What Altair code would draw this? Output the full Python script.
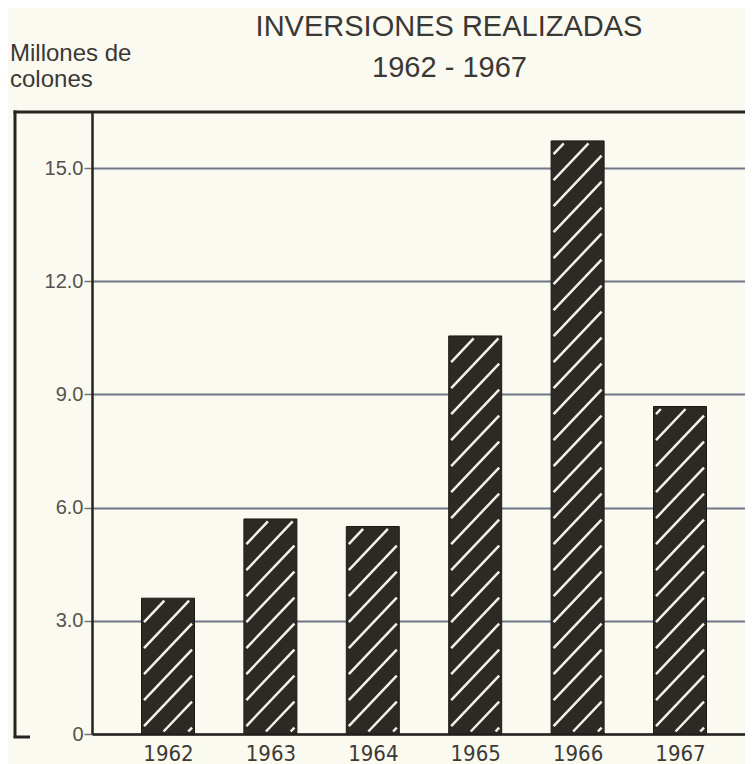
import altair as alt
import numpy as np
import pandas as pd

# ---- data ----
years = [1962, 1963, 1964, 1965, 1966, 1967]
values = [3.6, 5.7, 5.5, 10.55, 15.72, 8.68]
y_ticks = [0, 3, 6, 9, 12, 15]
title_lines = ["INVERSIONES REALIZADAS", "1962 - 1967"]
unit_lines = ["Millones de", "colones"]

# ---- geometry / style ----
W, H = 653, 622
PX_PER_YEAR = 102.4
X0 = 1962 - 76 / PX_PER_YEAR
X1 = X0 + W / PX_PER_YEAR
PX_PER_UNIT = 37.73
YMAX = H / PX_PER_UNIT
BAR_W = 53.0
HALF = BAR_W / 2 / PX_PER_YEAR

BG = "#fbfaf1"
INK = "#262320"
BAR_FILL = "#2d2924"
GRID = "#6f7587"
NARROW = "Liberation Sans Narrow, DejaVu Sans Condensed, Liberation Sans, sans-serif"

bars = pd.DataFrame({"year": years, "value": values})
bars["x_lo"] = bars["year"] - HALF
bars["x_hi"] = bars["year"] + HALF

# hatch segments (white "/" lines) clipped to each bar, built from the values
SLOPE, PERIOD, PHASE, INSET = 1.05, 26.0, 9.0, 2.5
rows = []
for yr, v in zip(years, values):
    h = v * PX_PER_UNIT
    u0, u1, y0, y1 = INSET, BAR_W - INSET, INSET, h - INSET
    for b in np.arange(-SLOPE * BAR_W + PHASE, h, PERIOD):
        ua = max(u0, (y0 - b) / SLOPE)
        ub = min(u1, (y1 - b) / SLOPE)
        if ub - ua > 1.0:
            left = yr - HALF
            rows.append({
                "x": left + ua / PX_PER_YEAR,
                "x2": left + ub / PX_PER_YEAR,
                "y": (SLOPE * ua + b) / PX_PER_UNIT,
                "y2": (SLOPE * ub + b) / PX_PER_UNIT,
            })
hatch = pd.DataFrame(rows)

xscale = alt.Scale(domain=[X0, X1], nice=False, zero=False)
yscale = alt.Scale(domain=[0, YMAX], nice=False, zero=False)

xaxis = alt.Axis(values=years, format="d", grid=False, ticks=False,
                 domain=True, domainColor=INK, domainWidth=2.5,
                 labelFont=NARROW, labelFontSize=22,
                 labelColor="#3c3a36", labelPadding=9, title=None)
yaxis = alt.Axis(values=y_ticks, grid=True, gridColor=GRID, gridWidth=1.8,
                 domain=True, domainColor=INK, domainWidth=2.5,
                 ticks=True, tickSize=8, tickColor="#777777", tickWidth=1.5,
                 labelFont="Liberation Sans", labelFontSize=20,
                 labelColor="#55524d", labelPadding=1,
                 labelExpr="datum.value == 0 ? '0' : format(datum.value, '.1f')",
                 title=None)

bar_layer = alt.Chart(bars).mark_rect(fill=BAR_FILL, stroke="#1c1a17", strokeWidth=1).encode(
    x=alt.X("x_lo:Q", scale=xscale, axis=xaxis),
    x2="x_hi:Q",
    y=alt.Y("value:Q", scale=yscale, axis=yaxis),
    y2=alt.datum(0),
)

hatch_layer = alt.Chart(hatch).mark_rule(color="#f4f2ea", strokeWidth=2.5).encode(
    x=alt.X("x:Q", scale=xscale, axis=xaxis),
    x2="x2:Q",
    y=alt.Y("y:Q", scale=yscale, axis=yaxis),
    y2="y2:Q",
)

one = pd.DataFrame({"k": [0]})
frame_top = alt.Chart(one).mark_rule(color=INK, strokeWidth=3).encode(
    x=alt.value(-78.5), x2=alt.value(W + 10), y=alt.value(0))
frame_left = alt.Chart(one).mark_rule(color=INK, strokeWidth=3).encode(
    x=alt.value(-77), y=alt.value(-1.5), y2=alt.value(H + 3))
frame_stub = alt.Chart(one).mark_rule(color=INK, strokeWidth=3).encode(
    x=alt.value(-78.5), x2=alt.value(-62), y=alt.value(H + 3))

title1 = alt.Chart(pd.DataFrame({"t": [title_lines[0]]})).mark_text(
    font="Liberation Sans", fontSize=29, color="#3a3834", align="center", baseline="alphabetic"
).encode(text="t:N", x=alt.value(357), y=alt.value(-76))
title2 = alt.Chart(pd.DataFrame({"t": [title_lines[1]]})).mark_text(
    font="Liberation Sans", fontSize=29, color="#3a3834", align="center", baseline="alphabetic"
).encode(text="t:N", x=alt.value(357.5), y=alt.value(-35))
unit1 = alt.Chart(pd.DataFrame({"t": [unit_lines[0]]})).mark_text(
    font="Liberation Sans", fontSize=24, color="#3a3834", align="left", baseline="alphabetic"
).encode(text="t:N", x=alt.value(-82), y=alt.value(-51))
unit2 = alt.Chart(pd.DataFrame({"t": [unit_lines[1]]})).mark_text(
    font="Liberation Sans", fontSize=24, color="#3a3834", align="left", baseline="alphabetic"
).encode(text="t:N", x=alt.value(-82), y=alt.value(-25))

chart = alt.layer(
    bar_layer, hatch_layer, frame_top, frame_left, frame_stub, title1, title2, unit1, unit2
).properties(
    width=W, height=H,
    padding={"left": 84, "top": 104, "right": 0, "bottom": 30},
    autosize=alt.AutoSizeParams(type="none"),
).configure(background=BG).configure_view(strokeWidth=0)

chart.save("out.html", embed_options={"renderer": "svg", "actions": False})
